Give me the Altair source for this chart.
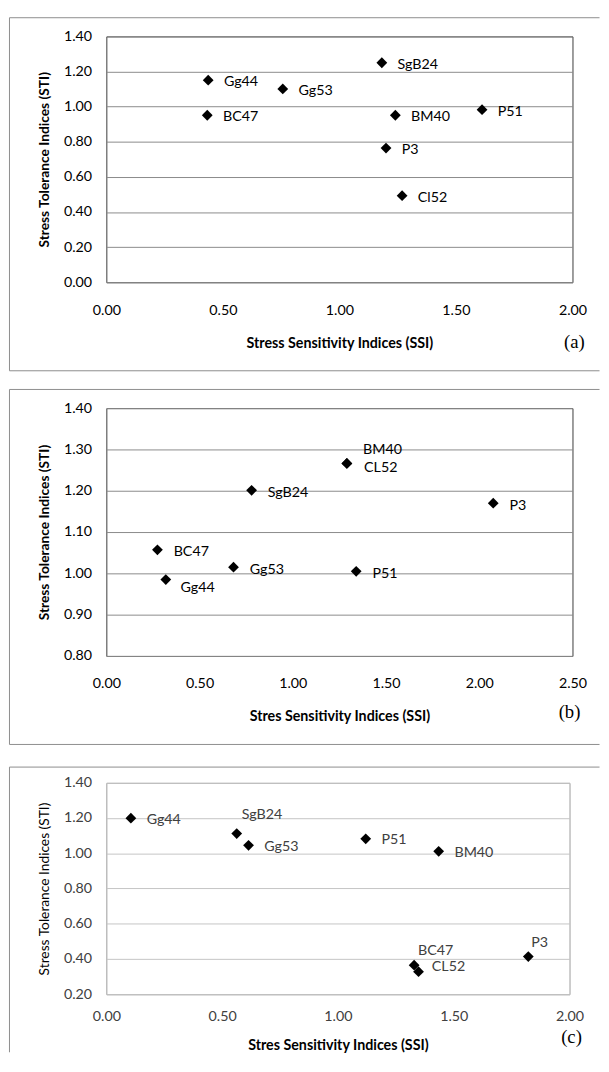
import altair as alt
import pandas as pd

# ---------------- data ----------------
# Panel (a)
a_genotype = ["Gg44", "BC47", "Gg53", "SgB24", "BM40", "P3", "P51", "Cl52"]
a_ssi = [0.437, 0.433, 0.757, 1.182, 1.240, 1.200, 1.612, 1.269]
a_sti = [1.151, 0.951, 1.101, 1.250, 0.951, 0.764, 0.983, 0.493]

# Panel (b)
b_genotype = ["BM40", "CL52", "SgB24", "P3", "BC47", "Gg44", "Gg53", "P51"]
b_ssi = [1.290, 1.290, 0.779, 2.075, 0.274, 0.319, 0.682, 1.340]
b_sti = [1.266, 1.266, 1.201, 1.170, 1.057, 0.985, 1.015, 1.005]

# Panel (c)
c_genotype = ["Gg44", "SgB24", "Gg53", "P51", "BM40", "BC47", "CL52", "P3"]
c_ssi = [0.106, 0.563, 0.614, 1.120, 1.435, 1.329, 1.348, 1.822]
c_sti = [1.199, 1.112, 1.045, 1.082, 1.011, 0.365, 0.328, 0.414]

# axis ticks
a_xticks = [0.0, 0.5, 1.0, 1.5, 2.0]
a_yticks = [0.0, 0.2, 0.4, 0.6, 0.8, 1.0, 1.2, 1.4]
b_xticks = [0.0, 0.5, 1.0, 1.5, 2.0, 2.5]
b_yticks = [0.8, 0.9, 1.0, 1.1, 1.2, 1.3, 1.4]
c_xticks = [0.0, 0.5, 1.0, 1.5, 2.0]
c_yticks = [0.2, 0.4, 0.6, 0.8, 1.0, 1.2, 1.4]

FONT = "Lato"
SERIF = "Liberation Serif"


def frame(genotype, ssi, sti):
    return pd.DataFrame({"genotype": genotype, "ssi": ssi, "sti": sti})


def panel(df, xticks, yticks, w, h, xtitle, tag, tag_pos, label_groups,
          box_top, box_bottom, extra_top=None, style="dark", xlabpad=21,
          xtitle_y=62):
    if style == "dark":
        border, grid, txt, ytw = "#3a3a3a", "#8a8a8a", "#000000", "bold"
    else:
        border, grid, txt, ytw = "#9a9a9a", "#c4c4c4", "#404040", "normal"

    xs = alt.Scale(domain=[xticks[0], xticks[-1]], nice=False, zero=False)
    ys = alt.Scale(domain=[yticks[0], yticks[-1]], nice=False, zero=False)

    x_axis = alt.Axis(
        values=xticks, format=".2f", title=xtitle, grid=False, ticks=False,
        domain=False, labelFont=FONT, labelFontSize=14.5, labelColor=txt,
        labelPadding=xlabpad, labelFlush=False, labelOverlap=False,
        titleFont=FONT, titleFontSize=14.5,
        titleFontWeight="bold", titleColor="#000000", titleY=xtitle_y,
        titleBaseline="middle")
    y_axis = alt.Axis(
        values=yticks, format=".2f", title="Stress Tolerance Indices (STI)",
        grid=True, gridColor=grid, gridWidth=1, ticks=False, domain=False,
        labelFont=FONT, labelFontSize=14.5, labelColor=txt, labelPadding=15,
        labelFlush=False, labelOverlap=False,
        titleFont=FONT, titleFontSize=14, titleFontWeight=ytw,
        titleColor="#000000", titleX=-63, titleBaseline="middle")

    enc_x = alt.X("ssi:Q", scale=xs, axis=x_axis)
    enc_y = alt.Y("sti:Q", scale=ys, axis=y_axis)

    base = alt.Chart(df)
    pts = base.mark_point(shape="diamond", filled=True, size=120, color="#000000",
                          opacity=1).encode(x=enc_x, y=enc_y)

    layers = [pts]
    for names, dx, dy in label_groups:
        layers.append(
            base.transform_filter(
                alt.FieldOneOfPredicate(field="genotype", oneOf=names)
            ).mark_text(align="left", baseline="middle", dx=dx, dy=dy,
                        font=FONT, fontSize=14.5, color=txt).encode(
                x=enc_x, y=enc_y, text="genotype:N")
        )

    one = alt.Chart(pd.DataFrame({"k": [0]}))
    boxc = "#8c8c8c"
    left, right = -98.5, 501.5
    layers.append(one.mark_rule(color=boxc, strokeWidth=1).encode(
        x=alt.value(left), x2=alt.value(right), y=alt.value(box_top)))
    layers.append(one.mark_rule(color=boxc, strokeWidth=1).encode(
        x=alt.value(left), y=alt.value(box_top), y2=alt.value(box_bottom[0])))
    if box_bottom[1]:
        layers.append(one.mark_rule(color=boxc, strokeWidth=1).encode(
            x=alt.value(left), x2=alt.value(right), y=alt.value(box_bottom[0])))
    if extra_top is not None:
        layers.append(one.mark_rule(color="#ffffff", strokeWidth=1, opacity=0).encode(
            x=alt.value(left), x2=alt.value(0), y=alt.value(extra_top)))

    layers.append(one.mark_text(font=SERIF, fontSize=19, align="center",
                                baseline="middle", color="#000000").encode(
        x=alt.value(tag_pos[0]), y=alt.value(tag_pos[1]), text=alt.value(tag)))

    return alt.layer(*layers).properties(
        width=w, height=h,
        view=alt.ViewBackground(stroke=border, strokeWidth=1, fill="#ffffff"))


pa = panel(frame(a_genotype, a_ssi, a_sti), a_xticks, a_yticks, 474, 250,
           "Stress Sensitivity Indices (SSI)", "(a)", (476, 311),
           [(a_genotype, 16, 2)],
           box_top=-19, box_bottom=(340, True), style="dark", xlabpad=22,
           xtitle_y=62)

pb = panel(frame(b_genotype, b_ssi, b_sti), b_xticks, b_yticks, 474, 252,
           "Stres Sensitivity Indices (SSI)", "(b)", (471, 309),
           [(["SgB24", "P3", "BC47", "Gg53", "P51"], 16.5, 2.5),
            (["BM40"], 16.5, -14),
            (["CL52"], 17.5, 5),
            (["Gg44"], 15, 8.5)],
           box_top=-19, box_bottom=(342, True), style="dark", xlabpad=21,
           xtitle_y=62)

pc = panel(frame(c_genotype, c_ssi, c_sti), c_xticks, c_yticks, 471, 215,
           "Stres Sensitivity Indices (SSI)", "(c)", (473, 259),
           [(["Gg44", "Gg53", "P51", "BM40"], 16, 1.5),
            (["CL52"], 13.5, -5),
            (["BC47"], 4, -14),
            (["P3"], 3, -13.5),
            (["SgB24"], 5, -19)],
           box_top=-16, box_bottom=(274, False), extra_top=-20, style="light",
           xlabpad=15.5, xtitle_y=52)

chart = alt.vconcat(pa, pb, pc, spacing=17).properties(
    padding=0, background="#ffffff"
).configure_view(stroke="#3a3a3a")

chart.save("out.html", embed_options={"renderer": "svg", "actions": False})
